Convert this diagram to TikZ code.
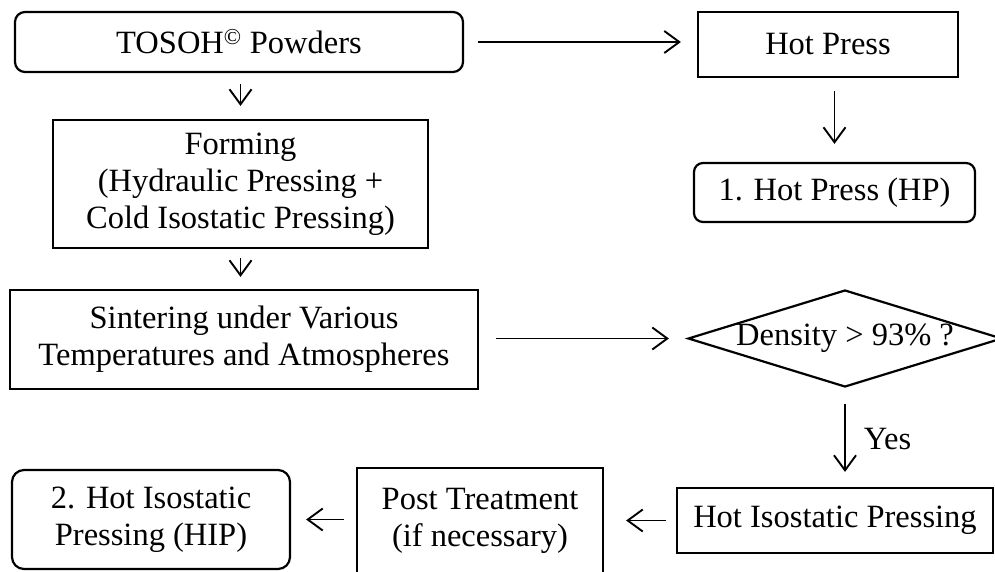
\documentclass[tikz,border=0pt]{standalone}
\usepackage{fontspec}
\setmainfont{Liberation Serif}
\usetikzlibrary{shapes.geometric,arrows.meta}
\begin{document}
\begin{tikzpicture}[x=1pt,y=-1pt,
  every node/.style={font=\fontsize{32.5}{37}\selectfont, align=center, inner sep=0pt},
  box/.style={draw, line width=2.2pt, rectangle},
  rbox/.style={box, rounded corners=10pt},
  decision/.style={draw, line width=2.2pt, diamond, shape aspect=3.24},
  flow/.style={line width=1.9pt, -{Straight Barb[length=15pt,width=22pt]}}
]
\useasboundingbox (0,0) rectangle (995,571);
\clip (0,0) rectangle (995,571);

% process steps
\node[rbox, minimum width=448pt, minimum height=60pt] (tosoh) at (239,42) {TOSOH\textsuperscript{\textcopyright} Powders};
\node[box, minimum width=260pt, minimum height=65pt] (hp) at (828,44.5) {Hot Press};
\node[rbox, rounded corners=9pt, minimum width=281pt, minimum height=59pt] (hpres) at (834.5,192.5) {1. Hot Press (HP)};
\node[box, minimum width=375pt, minimum height=128pt] (forming) at (240.5,184) {Forming\\(Hydraulic Pressing +\\Cold Isostatic Pressing)};
\node[box, minimum width=468pt, minimum height=99pt] (sinter) at (244,339.5) {Sintering under Various\\Temperatures and Atmospheres};
\node[decision, minimum width=314pt, minimum height=97pt] (dens) at (845,338.5) {Density > 93\% ?};
\node[box, minimum width=316pt, minimum height=65pt] (hipbox) at (835,520.5) {Hot Isostatic Pressing};
\node[box, minimum width=246pt, minimum height=106pt] (post) at (480,521) {Post Treatment\\(if necessary)};
\node[rbox, rounded corners=12pt, minimum width=278pt, minimum height=99pt] (hipres) at (151,519.5) {2. Hot Isostatic\\Pressing (HIP)};

% connectors
\draw[flow, shorten <=14pt, shorten >=16pt] (tosoh.east) -- (tosoh.east -| hp.west);
\draw[flow, shorten <=13pt, shorten >=18pt] (hpres.north |- hp.south) -- (hpres.north);
\draw[flow, shorten <=11pt, shorten >=13pt] (forming.north |- tosoh.south) -- (forming.north);
\draw[flow, shorten <=9pt, shorten >=12pt] (forming.south) -- (forming.south |- sinter.north);
\draw[flow, shorten <=17pt, shorten >=18pt] (sinter.east |- dens.west) -- (dens.west);
\draw[flow, shorten <=16pt, shorten >=15pt] (dens.south) -- (dens.south |- hipbox.north)
  node[midway, right, xshift=18pt, yshift=-2pt] (yes) {Yes};
\draw[flow, shorten <=10pt, shorten >=22pt] (hipbox.west) -- (hipbox.west -| post.east);
\draw[flow, shorten <=12pt, shorten >=15pt] (post.west |- hipres.east) -- (hipres.east);
\end{tikzpicture}
\end{document}
